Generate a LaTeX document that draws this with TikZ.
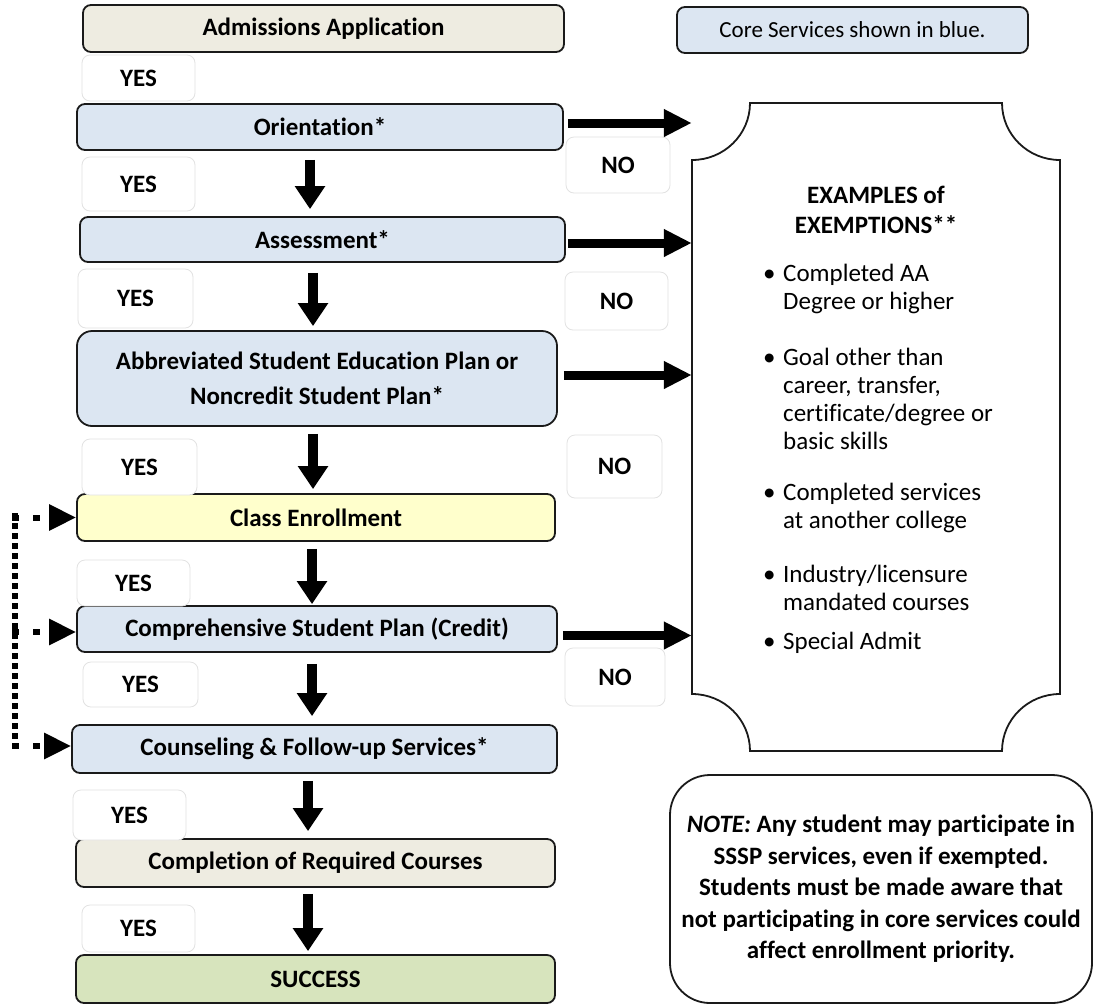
\documentclass[tikz,border=0pt]{standalone}
\usepackage{fontspec}
\setmainfont{Carlito}[Ligatures=NoCommon]
\usetikzlibrary{arrows.meta}
\definecolor{boxblue}{HTML}{DCE6F2}
\definecolor{boxbeige}{HTML}{EEECE1}
\definecolor{boxyellow}{HTML}{FFFFCC}
\definecolor{boxgreen}{HTML}{D7E4BD}
\definecolor{edge}{HTML}{1A1A1A}
\definecolor{faint}{HTML}{E2E2E2}
\begin{document}
\begin{tikzpicture}[x=1pt,y=-1pt,
  flow/.style={draw=edge, line width=1.8pt, rounded corners=8pt, inner sep=0pt, align=center,
    font=\bfseries\fontsize{25}{35}\selectfont},
  lbl/.style={draw=faint, line width=0.8pt, fill=white, rounded corners=8pt, inner sep=0pt,
    font=\bfseries\fontsize{25}{30}\selectfont},
  varrow/.style={line width=10pt, -{Triangle[length=23pt,width=29pt]}},
  harrow/.style={line width=9pt, -{Triangle[length=28pt,width=26pt]}},
  dotline/.style={line width=6pt, dash pattern=on 6pt off 4pt},
  dotarrow/.style={line width=6pt, dash pattern=on 7pt off 14pt, -{Triangle[length=27pt,width=25pt]}},
  bul/.style={anchor=west, align=left, inner sep=0pt, font=\fontsize{25}{28}\selectfont}
]
\useasboundingbox (0,0) rectangle (1094,1005);
\fill[white] (0,0) rectangle (1094,1005);

% main column
\node[flow, fill=boxbeige, minimum width=481pt, minimum height=47pt] (adm) at (323.5,28.5) {Admissions Application};
\node[flow, fill=boxblue, minimum width=486pt, minimum height=46pt] (ori) at (320,127) {Orientation*};
\node[flow, fill=boxblue, minimum width=485pt, minimum height=45pt] (ass) at (322.5,239.5) {Assessment*};
\node[flow, fill=boxblue, minimum width=480pt, minimum height=95pt, rounded corners=15pt] (abb) at (317,378.5)
  {Abbreviated Student Education Plan or\\Noncredit Student Plan*};
\node[flow, fill=boxyellow, minimum width=478pt, minimum height=47pt] (ce) at (316,517.5) {Class Enrollment};
\node[flow, fill=boxblue, minimum width=480pt, minimum height=46pt] (cs) at (317,629) {Comprehensive Student Plan (Credit)};
\node[flow, fill=boxblue, minimum width=485pt, minimum height=48pt] (cn) at (314.5,749) {Counseling \& Follow-up Services*};
\node[flow, fill=boxbeige, minimum width=479pt, minimum height=48pt] (comp) at (315.5,863) {Completion of Required Courses};
\node[flow, fill=boxgreen, minimum width=479pt, minimum height=48pt] (suc) at (315.5,979) {SUCCESS};

% YES labels
\node[lbl, minimum width=113pt, minimum height=46pt] (y1) at (138.5,78) {YES};
\node[lbl, minimum width=113pt, minimum height=54pt] (y2) at (138.5,184) {YES};
\node[lbl, minimum width=115pt, minimum height=59pt] (y3) at (135.5,298.5) {YES};
\node[lbl, minimum width=115pt, minimum height=56pt] (y4) at (139.5,467) {YES};
\node[lbl, minimum width=113pt, minimum height=46pt] (y5) at (133.5,583) {YES};
\node[lbl, minimum width=115pt, minimum height=45pt] (y6) at (140.5,684.5) {YES};
\node[lbl, minimum width=113pt, minimum height=50pt] (y7) at (129.5,815) {YES};
\node[lbl, minimum width=113pt, minimum height=47pt] (y8) at (138.5,928.5) {YES};

% NO labels
\node[lbl, minimum width=104pt, minimum height=56pt] (n1) at (618,165) {NO};
\node[lbl, minimum width=103pt, minimum height=58pt] (n2) at (616.5,301) {NO};
\node[lbl, minimum width=95pt, minimum height=63pt] (n3) at (614.5,466.5) {NO};
\node[lbl, minimum width=100pt, minimum height=58pt] (n4) at (615,677) {NO};

% legend
\node[flow, fill=boxblue, minimum width=351pt, minimum height=46pt, font=\fontsize{23}{28}\selectfont] (core) at (852.5,30)
  {Core Services shown in blue.};

% exemptions plaque
\node[minimum width=368pt, minimum height=648pt, inner sep=0pt] (ex) at (876,427) {};
\draw[draw=edge, line width=1.8pt]
  (692,160) .. controls (724,160) and (750,134.5) .. (750,103)
  -- (1002,103) .. controls (1002,134.5) and (1028,160) .. (1060,160)
  -- (1060,694) .. controls (1028,694) and (1002,719.5) .. (1002,751)
  -- (750,751) .. controls (750,719.5) and (724,694) .. (692,694)
  -- cycle;
\node[align=center, inner sep=0pt, font=\bfseries\fontsize{25}{30}\selectfont] (exh) at (876,210)
  {EXAMPLES of\\EXEMPTIONS**};
\node[bul] (b1) at (763,289) {\makebox[20pt][l]{•}Completed AA\\\hspace*{20pt}Degree or higher};
\node[bul] (b2) at (763,399) {\makebox[20pt][l]{•}Goal other than\\\hspace*{20pt}career, transfer,\\\hspace*{20pt}certificate/degree or\\\hspace*{20pt}basic skills};
\node[bul] (b3) at (763,508) {\makebox[20pt][l]{•}Completed services\\\hspace*{20pt}at another college};
\node[bul] (b4) at (763,588) {\makebox[20pt][l]{•}Industry/licensure\\\hspace*{20pt}mandated courses};
\node[bul] (b5) at (763,643) {\makebox[20pt][l]{•}Special Admit};

% note
\node[draw=edge, line width=1.8pt, rounded corners=40pt, minimum width=422pt, minimum height=228pt,
  inner sep=0pt, align=center, font=\bfseries\fontsize{25}{31.5}\selectfont] (note) at (881,889)
  {\textit{NOTE:} Any student may participate in\\SSSP services, even if exempted.\\Students must be made aware that\\not participating in core services could\\affect enrollment priority.};

% vertical arrows
\coordinate (vxa) at (310,0);
\coordinate (vxb) at (313,0);
\coordinate (vxc) at (312,0);
\coordinate (vxd) at (308,0);
\draw[varrow, shorten <=9pt, shorten >=7pt] (ori.south -| vxa) -- (ass.north -| vxa);
\draw[varrow, shorten <=10pt, shorten >=4pt] (ass.south -| vxb) -- (abb.north -| vxb);
\draw[varrow, shorten <=7pt, shorten >=4pt] (abb.south -| vxb) -- (ce.north -| vxb);
\draw[varrow, shorten <=7pt, shorten >=1pt] (ce.south -| vxc) -- (cs.north -| vxc);
\draw[varrow, shorten <=11pt, shorten >=8pt] (cs.south -| vxc) -- (cn.north -| vxc);
\draw[varrow, shorten <=7pt, shorten >=7pt] (cn.south -| vxd) -- (comp.north -| vxd);
\draw[varrow, shorten <=6pt, shorten >=3pt] (comp.south -| vxd) -- (suc.north -| vxd);

% horizontal arrows to exemptions
\draw[harrow, shorten <=4pt] ([yshift=4pt]ori.east) -- ([yshift=4pt]ori.east -| ex.west);
\draw[harrow, shorten <=2pt] ([yshift=-3.5pt]ass.east) -- ([yshift=-3.5pt]ass.east -| ex.west);
\draw[harrow, shorten <=6pt] ([yshift=3.5pt]abb.east) -- ([yshift=3.5pt]abb.east -| ex.west);
\draw[harrow, shorten <=5pt] ([yshift=-6.5pt]cs.east) -- ([yshift=-6.5pt]cs.east -| ex.west);

% dotted loop-back connector
\coordinate (lp) at (12,0);
\coordinate (lpt) at (15,513);
\coordinate (lpb) at (15,750);
\draw[dotline] (lpt) -- (lpb);
\draw[dotarrow] (lp |- ce.west) -- (ce.west);
\draw[dotarrow] ([yshift=-3pt]lp |- cs.west) -- ([yshift=-3pt]cs.west);
\draw[dotarrow] ([yshift=3pt]lp |- cn.west) -- ([yshift=3pt]cn.west);
\end{tikzpicture}
\end{document}
